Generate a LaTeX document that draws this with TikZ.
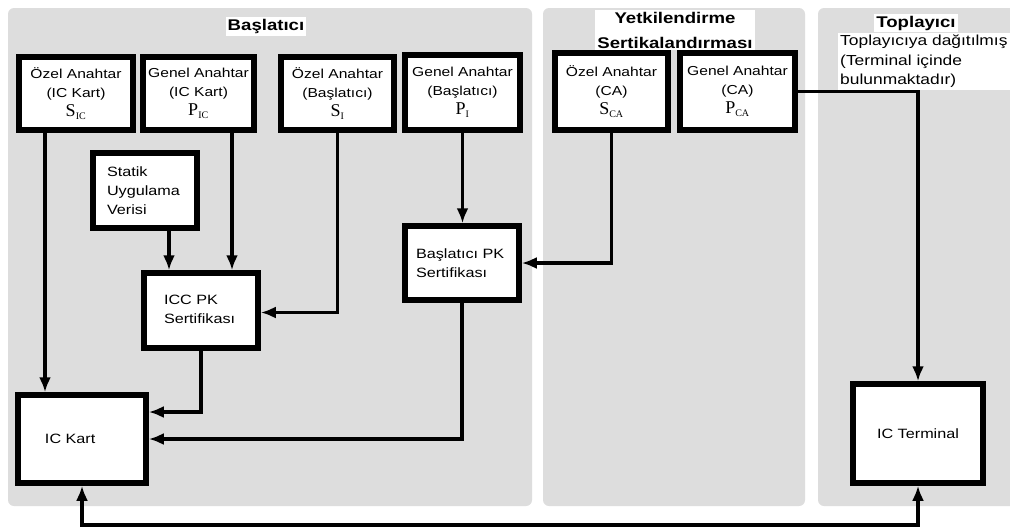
\documentclass[tikz,border=0pt]{standalone}
\usepackage{fontspec}
\setmainfont[FakeStretch=1.2]{Liberation Sans}
\newfontfamily\subfont{Liberation Serif}
\usetikzlibrary{arrows.meta}

\definecolor{panelgray}{RGB}{221,221,221}

\tikzset{
  keybox/.style={draw, line width=5.5pt, fill=white, align=center, inner sep=2pt,
    font=\fontsize{13}{19}\selectfont},
  databox/.style={draw, line width=5.5pt, fill=white, align=left, inner sep=2pt,
    font=\fontsize{13.5}{19}\selectfont},
  arr/.style={line width=3.5pt, -{Latex[length=15pt,width=12pt]}},
  arrboth/.style={line width=3.5pt, {Latex[length=15pt,width=12pt]}-{Latex[length=15pt,width=12pt]}},
  paneltitle/.style={fill=white, inner sep=2pt, font=\bfseries\fontsize{15.5}{25}\selectfont, align=center}
}
\newcommand{\keylbl}[2]{{\subfont\fontsize{18}{18}\selectfont #1\textsubscript{\fontsize{10}{10}\selectfont #2}}}

\begin{document}
\begin{tikzpicture}[x=1pt,y=-1pt]

\clip (0,0) rectangle (1010,531);
\fill[white] (0,0) rectangle (1010,531);

% panels
\fill[panelgray, rounded corners=6pt] (8,8) rectangle (532,506);
\fill[panelgray, rounded corners=6pt] (543,8) rectangle (805,506);
\fill[panelgray, rounded corners=6pt] (818,8) rectangle (1030,506);

\node[paneltitle] (tbas) at (266,26.5) {Başlatıcı};
\node[paneltitle] (tyet) at (675,30) {Yetkilendirme\\Sertikalandırması};
\node[paneltitle] (ttop) at (916,23) {Toplayıcı};
\node[fill=white, inner sep=2pt, align=left, anchor=north west,
  font=\fontsize{14.5}{19.5}\selectfont] (tdag) at (838,33)
  {Toplayıcıya dağıtılmış\\(Terminal içinde\\bulunmaktadır)};

% key boxes
\node[keybox, minimum width=114pt, minimum height=73pt] (ozelic) at (76,93.5)
  {Özel Anahtar\\(IC Kart)\\\keylbl{S}{IC}};
\node[keybox, minimum width=111pt, minimum height=73pt] (genelic) at (198.5,93.5)
  {Genel Anahtar\\(IC Kart)\\\keylbl{P}{IC}};
\node[keybox, minimum width=113pt, minimum height=73pt] (ozelbs) at (337.5,93.5)
  {Özel Anahtar\\(Başlatıcı)\\\keylbl{S}{I}};
\node[keybox, minimum width=115pt, minimum height=75pt] (genelbs) at (462.5,92.5)
  {Genel Anahtar\\(Başlatıcı)\\\keylbl{P}{I}};
\node[keybox, minimum width=113pt, minimum height=77pt] (ozelca) at (611.5,91.5)
  {Özel Anahtar\\(CA)\\\keylbl{S}{CA}};
\node[keybox, minimum width=115pt, minimum height=77pt] (genelca) at (737.5,91.5)
  {Genel Anahtar\\(CA)\\\keylbl{P}{CA}};

% data and certificates
\node[databox, minimum width=104pt, minimum height=75pt, text width=76pt] (statik) at (145,190.5)
  {Statik\\Uygulama\\Verisi};
\node[databox, minimum width=114pt, minimum height=75pt, text width=74pt] (iccpk) at (201,310.5)
  {\\[-11pt]ICC PK\\Sertifikası};
\node[databox, minimum width=114pt, minimum height=74pt, text width=92pt] (bspk) at (462,263)
  {Başlatıcı PK\\Sertifikası};

% card and terminal
\node[databox, minimum width=128pt, minimum height=88pt, text width=74pt] (ickart) at (82,439)
  {IC Kart};
\node[databox, minimum width=130pt, minimum height=99pt] (icterm) at (918,433.5)
  {IC Terminal};

\coordinate (bus) at (0,525);

% connectors
\draw[arr] ([xshift=-31pt]ozelic.south) -- ([xshift=-31pt]ozelic.south |- ickart.north);
\draw[arr] ([xshift=33.5pt]genelic.south) -- ([xshift=33.5pt]genelic.south |- iccpk.north);
\draw[arr] ([xshift=24pt]statik.south) -- ([xshift=24pt]statik.south |- iccpk.north);
\draw[arr] (ozelbs.south) |- ([yshift=-2pt]iccpk.east);
\draw[arr] (genelbs.south) -- (genelbs.south |- bspk.north);
\draw[arr] (ozelca.south) |- (bspk.east);
\draw[arr] (genelca.east) -| (icterm.north);
\draw[arr] (iccpk.south) |- ([yshift=27pt]ickart.east);
\draw[arr] (bspk.south) |- (ickart.east);
\draw[arrboth] (ickart.south) -- (ickart.south |- bus) -| (icterm.south);

\end{tikzpicture}
\end{document}
